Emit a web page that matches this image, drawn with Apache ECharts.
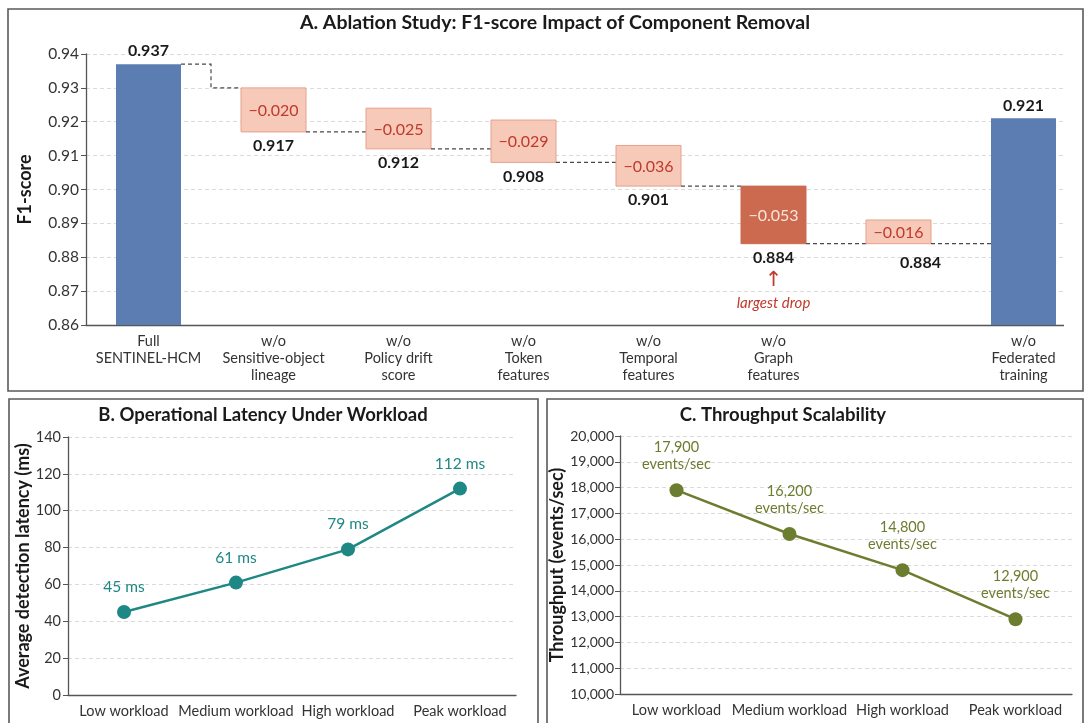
<!DOCTYPE html>
<html>
<head>
<meta charset="utf-8">
<script src="https://cdn.jsdelivr.net/npm/echarts@6/dist/echarts.min.js"></script>
<style>
  html, body { margin: 0; padding: 0; background: #ffffff; }
  #chart { width: 1086px; height: 723px; }
</style>
</head>
<body>
<div id="chart"></div>
<script>
// ---------- Panel A: ablation study (F1-score) ----------
const ablationCategories = [
  'Full\nSENTINEL-HCM',
  'w/o\nSensitive-object\nlineage',
  'w/o\nPolicy drift\nscore',
  'w/o\nToken\nfeatures',
  'w/o\nTemporal\nfeatures',
  'w/o\nGraph\nfeatures',
  '',
  'w/o\nFederated\ntraining'
];
const fullScore = 0.937;
const federatedScore = 0.921;
// change in F1 for each removed component
const dropValues = [-0.020, -0.025, -0.029, -0.036, -0.053, -0.016];
// F1 after the step (lower edge of each step box)
const stepScores = [0.917, 0.912, 0.908, 0.901, 0.884, 0.884];
// upper edge of each step box
const stepTops = [0.930, 0.924, 0.9205, 0.913, 0.901, 0.891];
const f1Min = 0.86, f1Max = 0.94, f1Step = 0.01;

// ---------- Panel B: latency ----------
const workloads = ['Low workload', 'Medium workload', 'High workload', 'Peak workload'];
const latencyMs = [45, 61, 79, 112];
const latencyMin = 0, latencyMax = 140, latencyStep = 20;

// ---------- Panel C: throughput ----------
const throughputEps = [17900, 16200, 14800, 12900];
const throughputMin = 10000, throughputMax = 20000, throughputStep = 1000;

const FONT = 'Lato, "Liberation Sans", sans-serif';
const AXIS_COLOR = '#555555';
const GRID_LINE = { show: true, lineStyle: { color: '#dadada', type: [4, 3], width: 1 } };
const BAR_BLUE = '#5b7db2';
const STEP_FILL = '#f6c9b9', STEP_EDGE = '#e6a18b';
const DROP_FILL = '#cb6a4f';
const RED_TEXT = '#c0392b';
const TEAL = '#1d8884';
const OLIVE = '#6c7d2f';
const BW = 65; // step/bar width in px

// index of the largest drop gets highlighted
let largestIdx = 0;
dropValues.forEach((d, i) => { if (Math.abs(d) > Math.abs(dropValues[largestIdx])) largestIdx = i; });

const fmtDrop = d => '\u2212' + Math.abs(d).toFixed(3);

const blueBars = ablationCategories.map((c, i) =>
  i === 0 ? fullScore : (i === ablationCategories.length - 1 ? federatedScore : '-'));

const stepData = stepScores.map((s, i) => [i + 1, s, stepTops[i], dropValues[i]]);

function renderStep(params, api) {
  const i = params.dataIndex;
  const cat = api.value(0);
  const bottom = api.value(1), top = api.value(2), drop = api.value(3);
  const pTop = api.coord([cat, top]);
  const pBot = api.coord([cat, bottom]);
  const cx = pTop[0];
  const x0 = cx - BW / 2;
  const isMax = i === largestIdx;
  const isLast = i === stepScores.length - 1;
  const dash = { stroke: '#4a4a4a', lineDash: [4, 3], lineWidth: 1.2, fill: null };
  const kids = [];

  kids.push({
    type: 'rect',
    shape: { x: x0, y: pTop[1], width: BW, height: pBot[1] - pTop[1] },
    style: { fill: isMax ? DROP_FILL : STEP_FILL, stroke: isMax ? DROP_FILL : STEP_EDGE, lineWidth: 1 }
  });
  kids.push({
    type: 'text',
    style: {
      text: fmtDrop(drop), x: cx, y: (pTop[1] + pBot[1]) / 2 + 1,
      align: 'center', verticalAlign: 'middle',
      fill: isMax ? '#fbe4da' : RED_TEXT, fontSize: 16, fontFamily: FONT
    }
  });
  const scoreY = pBot[1] + (isLast ? 19 : 14);
  kids.push({
    type: 'text',
    style: {
      text: bottom.toFixed(3), x: cx + (isLast ? 22 : 0), y: scoreY,
      align: 'center', verticalAlign: 'middle',
      fill: '#1a1a1a', fontSize: 16, fontWeight: 'bold', fontFamily: FONT
    }
  });

  // dashed connector to the next column at this step's level
  const nextLeft = api.coord([cat + 1, bottom])[0] - BW / 2;
  kids.push({ type: 'line', shape: { x1: x0 + BW, y1: pBot[1], x2: nextLeft, y2: pBot[1] }, style: dash });

  // connector from the full-model bar into the first step
  if (i === 0) {
    const pFull = api.coord([0, fullScore]);
    const fullRight = pFull[0] + BW / 2;
    const mid = (fullRight + x0) / 2;
    kids.push({
      type: 'polyline',
      shape: { points: [[fullRight, pFull[1]], [mid, pFull[1]], [mid, pTop[1]], [x0, pTop[1]]] },
      style: dash
    });
  }

  if (isMax) {
    kids.push({
      type: 'text',
      style: { text: '\u2191', x: cx, y: scoreY + 23, align: 'center', verticalAlign: 'middle',
               fill: RED_TEXT, fontSize: 21, fontFamily: '"DejaVu Sans", sans-serif' }
    });
    kids.push({
      type: 'text',
      style: { text: 'largest drop', x: cx, y: scoreY + 45, align: 'center', verticalAlign: 'middle',
               fill: RED_TEXT, fontSize: 15, fontStyle: 'italic', fontFamily: FONT }
    });
  }
  return { type: 'group', children: kids };
}

const axisLine = { show: true, lineStyle: { color: AXIS_COLOR, width: 1.3 } };
const yTick = { show: true, length: 5, lineStyle: { color: AXIS_COLOR } };
const tickLabel = size => ({ color: '#333333', fontSize: size, fontFamily: FONT });
const catLabel = { interval: 0, color: '#333333', fontSize: 14.5, margin: 9, fontFamily: FONT };
const yName = (gap) => ({
  nameLocation: 'middle', nameGap: gap, nameRotate: 90,
  nameTextStyle: { color: '#1a1a1a', fontSize: 18, fontWeight: 'bold', fontFamily: FONT }
});

const option = {
  animation: false,
  backgroundColor: '#ffffff',
  grid: [
    { left: 86, top: 54, width: 1008, height: 271 },
    { left: 68, top: 437, width: 448, height: 258 },
    { left: 620, top: 436, width: 452, height: 258 }
  ],
  xAxis: [
    {
      gridIndex: 0, type: 'category', data: ablationCategories,
      axisLine: axisLine, axisTick: { show: false },
      axisLabel: Object.assign({}, catLabel, { lineHeight: 17, margin: 8 })
    },
    {
      gridIndex: 1, type: 'category', data: workloads,
      axisLine: axisLine, axisTick: { show: false }, axisLabel: catLabel
    },
    {
      gridIndex: 2, type: 'category', data: workloads,
      axisLine: axisLine, axisTick: { show: false }, axisLabel: catLabel
    }
  ],
  yAxis: [
    Object.assign({
      gridIndex: 0, type: 'value', name: 'F1-score', min: f1Min, max: f1Max, interval: f1Step,
      axisLine: axisLine, axisTick: yTick, splitLine: GRID_LINE,
      axisLabel: Object.assign({ formatter: v => v.toFixed(2), margin: 7 }, tickLabel(15.5))
    }, yName(52)),
    Object.assign({
      gridIndex: 1, type: 'value', name: 'Average detection latency (ms)',
      min: latencyMin, max: latencyMax, interval: latencyStep,
      axisLine: axisLine, axisTick: yTick, splitLine: GRID_LINE,
      axisLabel: Object.assign({ margin: 7 }, tickLabel(14.5))
    }, yName(36)),
    Object.assign({
      gridIndex: 2, type: 'value', name: 'Throughput (events/sec)',
      min: throughputMin, max: throughputMax, interval: throughputStep,
      axisLine: axisLine, axisTick: yTick, splitLine: GRID_LINE,
      axisLabel: Object.assign({ margin: 6, formatter: v => v.toLocaleString('en-US') }, tickLabel(14))
    }, yName(47))
  ],
  series: [
    {
      type: 'bar', xAxisIndex: 0, yAxisIndex: 0, data: blueBars, barWidth: BW,
      itemStyle: { color: BAR_BLUE },
      label: {
        show: true, position: 'top', distance: 5, formatter: p => p.value.toFixed(3),
        color: '#1a1a1a', fontSize: 16, fontWeight: 'bold', fontFamily: FONT
      }
    },
    {
      type: 'custom', xAxisIndex: 0, yAxisIndex: 0, data: stepData,
      renderItem: renderStep, z: 3
    },
    {
      type: 'line', xAxisIndex: 1, yAxisIndex: 1, data: latencyMs,
      symbol: 'circle', symbolSize: 14,
      lineStyle: { color: TEAL, width: 2.5 }, itemStyle: { color: TEAL },
      label: {
        show: true, position: 'top', distance: 10, formatter: p => p.value + ' ms',
        color: TEAL, fontSize: 15.5, fontFamily: FONT
      }
    },
    {
      type: 'line', xAxisIndex: 2, yAxisIndex: 2, data: throughputEps,
      symbol: 'circle', symbolSize: 14,
      lineStyle: { color: OLIVE, width: 2.5 }, itemStyle: { color: OLIVE },
      label: {
        show: true, position: 'top', distance: 10, lineHeight: 17,
        formatter: p => p.value.toLocaleString('en-US') + '\nevents/sec',
        color: OLIVE, fontSize: 14.5, fontFamily: FONT
      }
    }
  ],
  graphic: [
    // trim the plot area of panel A at its frame
    { type: 'rect', z: 100, shape: { x: 1064, y: 30, width: 22, height: 300 }, style: { fill: '#ffffff' } },
    // panel frames
    { type: 'rect', z: 101, shape: { x: 8, y: 9, width: 1075, height: 382 }, style: { fill: null, stroke: '#5a5a5a', lineWidth: 1.6 } },
    { type: 'rect', z: 101, shape: { x: 9, y: 399, width: 529, height: 340 }, style: { fill: null, stroke: '#5a5a5a', lineWidth: 1.6 } },
    { type: 'rect', z: 101, shape: { x: 547, y: 399, width: 536, height: 340 }, style: { fill: null, stroke: '#5a5a5a', lineWidth: 1.6 } },
    // panel titles
    { type: 'text', z: 101, x: 555, y: 23, style: { text: 'A. Ablation Study: F1-score Impact of Component Removal', align: 'center', verticalAlign: 'middle', fill: '#1a1a1a', fontSize: 19.5, fontWeight: 'bold', fontFamily: FONT } },
    { type: 'text', z: 101, x: 263, y: 415, style: { text: 'B. Operational Latency Under Workload', align: 'center', verticalAlign: 'middle', fill: '#1a1a1a', fontSize: 18.5, fontWeight: 'bold', fontFamily: FONT } },
    { type: 'text', z: 101, x: 783, y: 415, style: { text: 'C. Throughput Scalability', align: 'center', verticalAlign: 'middle', fill: '#1a1a1a', fontSize: 18.5, fontWeight: 'bold', fontFamily: FONT } }
  ]
};

const chart = echarts.init(document.getElementById('chart'), null, { renderer: 'canvas' });
chart.setOption(option);
</script>
</body>
</html>
